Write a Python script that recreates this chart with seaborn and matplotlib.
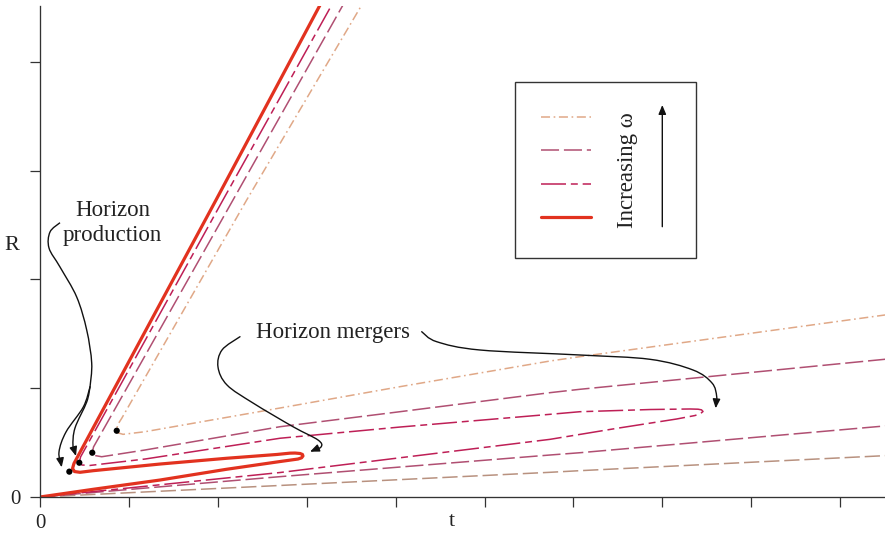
import numpy as np
import pandas as pd
import matplotlib
matplotlib.use("Agg")
import matplotlib.pyplot as plt
import seaborn as sns
from matplotlib.path import Path
from matplotlib.patches import FancyArrowPatch, Rectangle, PathPatch
from matplotlib.lines import Line2D
from matplotlib.transforms import Affine2D

# ---------------- data (t, R) ----------------
# highest omega: solid red curve (lower branch -> merger fold -> middle branch -> production -> outer branch)
red_t = [0.000, 0.600, 1.350, 2.100, 2.700, 2.902, 2.942, 2.958, 2.952, 2.925, 2.868, 2.812, 2.666, 2.100,
         1.350, 0.600, 0.450, 0.388, 0.366, 0.382, 1.980, 3.150, 3.299]
red_R = [0.000, 0.071, 0.156, 0.255, 0.326, 0.349, 0.360, 0.377, 0.391, 0.400, 0.404, 0.403, 0.391, 0.356,
         0.303, 0.242, 0.227, 0.234, 0.262, 0.308, 2.730, 4.522, 4.752]

# second: crimson long-short dashed curve
crimson_t = [0.000, 2.700, 5.737, 6.487, 7.162, 7.368, 7.430, 7.458, 7.441, 7.402, 7.312, 6.862, 6.074, 5.737,
             4.049, 2.700, 1.181, 0.562, 0.472, 0.442, 0.456, 2.058, 3.281, 3.438]
crimson_R = [0.000, 0.225, 0.530, 0.631, 0.717, 0.749, 0.767, 0.786, 0.801, 0.807, 0.809, 0.804, 0.784, 0.760,
             0.643, 0.540, 0.349, 0.290, 0.294, 0.315, 0.368, 2.730, 4.522, 4.752]

# third: mauve dashed curve (merger outside the frame)
mauve_low_t = [0.000, 2.700, 5.737, 6.074, 9.505, 9.674]
mauve_low_R = [0.000, 0.187, 0.386, 0.407, 0.653, 0.665]
mauve_up_t = [9.674, 9.505, 6.074, 5.737, 4.049, 2.700, 1.181, 0.694, 0.619, 0.588, 0.602, 2.171, 3.408, 3.567]
mauve_up_R = [1.279, 1.266, 0.990, 0.959, 0.784, 0.646, 0.432, 0.370, 0.381, 0.407, 0.460, 2.730, 4.522, 4.752]

# lowest omega: peach dash-dot curve (merger outside the frame)
peach_low_t = [0.000, 2.700, 5.737, 6.074, 9.505, 9.674]
peach_low_R = [0.000, 0.106, 0.227, 0.242, 0.380, 0.386]
peach_up_t = [9.674, 9.505, 6.074, 5.737, 4.049, 2.700, 1.181, 0.934, 0.883, 0.863, 0.872, 0.919, 2.325, 3.619, 3.784]
peach_up_R = [1.691, 1.673, 1.290, 1.250, 1.014, 0.818, 0.600, 0.576, 0.588, 0.609, 0.662, 0.723, 2.730, 4.522, 4.752]

# horizon production points
dot_t = [0.330, 0.442, 0.588, 0.863]
dot_R = [0.233, 0.315, 0.407, 0.609]

x_ticks = list(range(0, 10))
y_ticks = list(range(0, 5))
x_ticklabels = ["0"] + [""] * 9
y_ticklabels = ["0"] + [""] * 4

# ---------------- styles ----------------
RED = "#e2321f"
CRIMSON = "#be1f56"
MAUVE = "#b04f72"
PEACH = "#e0a887"
TAN = "#b8917f"
LS_RED = "-"
LS_CRIMSON = (0, (18, 3.5, 5, 3.5))
LS_MAUVE = (0, (13, 3.5))
LS_PEACH = (0, (6.5, 2.6, 1.2, 2.6))
LS_TAN = (0, (11, 3.5))

sns.set_theme(style="ticks")
plt.rcParams["font.family"] = ["Liberation Serif", "DejaVu Serif"]
plt.rcParams["lines.scale_dashes"] = False

W, H = 885, 539
fig = plt.figure(figsize=(W / 100, H / 100), dpi=100)
ax = fig.add_axes([40 / W, (H - 497) / H, 845 / W, 491 / H])

def curve(t, R, color, ls, lw):
    df = pd.DataFrame({"t": t, "R": R})
    sns.lineplot(data=df, x="t", y="R", sort=False, estimator=None, errorbar=None,
                 color=color, linestyle=ls, linewidth=lw, ax=ax)

curve(peach_low_t, peach_low_R, TAN, LS_TAN, 1.1)
curve(peach_up_t, peach_up_R, PEACH, LS_PEACH, 1.1)
curve(mauve_low_t, mauve_low_R, MAUVE, LS_MAUVE, 1.1)
curve(mauve_up_t, mauve_up_R, MAUVE, LS_MAUVE, 1.1)
curve(crimson_t, crimson_R, CRIMSON, LS_CRIMSON, 1.1)
curve(red_t, red_R, RED, LS_RED, 2.3)

sns.scatterplot(x=dot_t, y=dot_R, color="black", s=20, edgecolor="none", zorder=6, ax=ax)

ax.set_xlim(0, 9.505)
ax.set_ylim(0, 4.513)
ax.set_xticks(x_ticks)
ax.set_xticklabels(x_ticklabels)
ax.set_yticks(y_ticks)
ax.set_yticklabels(y_ticklabels)
ax.tick_params(direction="out", length=7.2, width=0.9, color="#333333",
               labelsize=15, labelcolor="#222222")
ax.tick_params(axis="x", pad=5)
ax.tick_params(axis="y", pad=6.5)
for s in ["top", "right"]:
    ax.spines[s].set_visible(False)
for s in ["left", "bottom"]:
    ax.spines[s].set_linewidth(0.95)
    ax.spines[s].set_color("#333333")
ax.set_xlabel("t", fontsize=16, color="#222222")
ax.set_ylabel("R", fontsize=16, color="#222222", rotation=0)
ax.xaxis.set_label_coords((452 - 40) / 845, (497 - 521) / 491)
ax.yaxis.set_label_coords((12 - 40) / 845, (497 - 245) / 491)
ax.xaxis.label.set_va("center")
ax.yaxis.label.set_va("center")
ax.yaxis.label.set_ha("center")

# ---------------- decorations in pixel space ----------------
pix = Affine2D().scale(1 / W, -1 / H).translate(0, 1) + fig.transFigure

def smooth(pts):
    P = np.array(pts, float)
    verts = [P[0]]
    codes = [Path.MOVETO]
    n = len(P)
    for i in range(n - 1):
        p0 = P[i - 1] if i > 0 else P[i]
        p1, p2 = P[i], P[i + 1]
        p3 = P[i + 2] if i + 2 < n else P[i + 1]
        verts += [p1 + (p2 - p0) / 6, p2 - (p3 - p1) / 6, p2]
        codes += [Path.CURVE4] * 3
    return Path(verts, codes)

HEAD = "-|>,head_length=0.6,head_width=0.25"

def arrow(pts, head=True):
    p = smooth(pts)
    if head:
        a = FancyArrowPatch(path=p, arrowstyle=HEAD, mutation_scale=9,
                            color="#111111", lw=1.0, transform=pix)
    else:
        a = PathPatch(p, fill=False, edgecolor="#111111", lw=1.0, transform=pix)
    fig.add_artist(a)

txt = dict(transform=pix, fontsize=16.5, color="#222222")
fig.text(112.5, 216, "Horizon", ha="center", va="baseline", **txt)
fig.text(112.5, 241.5, "production", ha="center", va="baseline", **txt)
fig.text(333.5, 338, "Horizon mergers", ha="center", va="baseline", **txt)

arrow([(60, 222.7), (50, 232), (49, 248), (60, 267), (76.7, 297), (86.7, 330), (91.7, 363), (90, 387)], head=False)
arrow([(90, 387), (83.3, 407), (66, 432), (59, 452), (61.7, 467.3)])
arrow([(90, 387), (86.7, 402), (75, 428), (73, 446), (76, 456)])

arrow([(240, 336.7), (222, 350), (218, 367), (227, 385), (253, 403), (293, 426.7), (318, 440),
       (321, 447), (310, 451.7)])
arrow([(421.7, 331.7), (436.7, 341.7), (480, 350), (580, 355), (650, 359.3), (693, 370), (712, 383),
       (716.7, 396.7), (715.7, 408.3)])

# legend box
fig.add_artist(Rectangle((515, 82.3), 180.7, 175.4, fill=False, edgecolor="#333333", lw=1.0, transform=pix))
leg = [(116.7, PEACH, LS_PEACH, 1.1), (150.0, MAUVE, LS_MAUVE, 1.1),
       (184.0, CRIMSON, LS_CRIMSON, 1.1), (216.7, RED, LS_RED, 2.3)]
for y, c, ls, lw in leg:
    fig.add_artist(Line2D([540.7, 590.7], [y, y], color=c, linestyle=ls, linewidth=lw, transform=pix))
fig.text(627.5, 170, "Increasing ω", rotation=90, ha="center", va="center", rotation_mode="anchor", **txt)
fig.add_artist(FancyArrowPatch((662.3, 226.7), (662.3, 105), arrowstyle=HEAD,
                               mutation_scale=9, color="#111111", lw=1.0, transform=pix, shrinkA=0, shrinkB=0))

fig.savefig("out.png", dpi=100)
